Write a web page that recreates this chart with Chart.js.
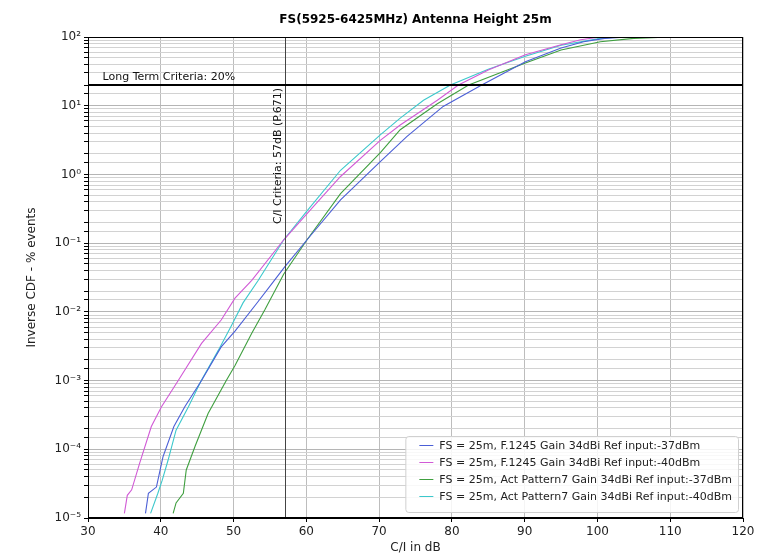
<!DOCTYPE html>
<html><head><meta charset="utf-8">
<script src="https://cdn.jsdelivr.net/npm/chart.js@4/dist/chart.umd.min.js"></script>
<style>html,body{margin:0;padding:0;background:#fff}</style>
</head><body>
<canvas id="c" width="771" height="560"></canvas>
<script>
// ---- data ----
const seriesLabels = [
  'FS = 25m, F.1245 Gain 34dBi Ref input:-37dBm',
  'FS = 25m, F.1245 Gain 34dBi Ref input:-40dBm',
  'FS = 25m, Act Pattern7 Gain 34dBi Ref input:-37dBm',
  'FS = 25m, Act Pattern7 Gain 34dBi Ref input:-40dBm'
];
// F.1245 -37dBm (blue)
const ciBlue  = [37.9, 38.3, 39.4, 40.3, 41.8, 43.3, 45.6, 48.3, 50.2, 53.3, 55.4, 57.0, 60.1, 64.7, 70.2, 73.8, 78.8, 84.1, 90.1, 95.0, 98.1, 101.0, 104.0];
const cdfBlue = [1.17e-5, 2.29e-5, 2.82e-5, 7.76e-5, 2.14e-4, 4.17e-4, 1.0e-3, 3.09e-3, 5.25e-3, 1.38e-2, 2.69e-2, 4.47e-2, 0.112, 0.427, 1.55, 3.55, 9.77, 20.0, 43.7, 69.2, 85.1, 95.5, 100];
// F.1245 -40dBm (magenta)
const ciMagenta  = [35.0, 35.4, 36.0, 37.1, 38.7, 40.1, 42.4, 45.6, 48.3, 50.2, 52.5, 56.9, 60.1, 64.7, 70.2, 72.9, 78.0, 80.9, 85.0, 90.1, 95.0, 97.7, 100.4];
const cdfMagenta = [1.17e-5, 2.14e-5, 2.57e-5, 6.3e-5, 2.14e-4, 4.17e-4, 1.0e-3, 3.47e-3, 7.6e-3, 1.58e-2, 2.88e-2, 0.112, 0.269, 0.933, 3.16, 5.25, 12.0, 20.0, 33.1, 55.0, 77.0, 91.2, 100];
// Act Pattern7 -37dBm (green)
const ciGreen  = [41.7, 42.1, 43.1, 43.5, 44.7, 46.5, 49.0, 50.2, 52.5, 54.3, 56.9, 60.1, 64.7, 70.2, 72.9, 78.0, 82.3, 90.1, 95.0, 100.4, 105.0, 110.0];
const cdfGreen = [1.17e-5, 1.66e-5, 2.29e-5, 5.0e-5, 1.1e-4, 3.31e-4, 1.0e-3, 1.66e-3, 4.9e-3, 1.07e-2, 3.55e-2, 0.112, 0.525, 2.09, 4.47, 10.7, 20.0, 41.7, 64.6, 85.1, 95.5, 100];
// Act Pattern7 -40dBm (cyan)
const ciCyan  = [38.6, 39.6, 40.2, 41.0, 42.1, 43.8, 45.6, 47.9, 49.7, 51.3, 53.4, 56.9, 60.1, 64.7, 70.2, 72.9, 76.1, 79.8, 85.0, 90.1, 95.0, 100.4, 103.0];
const cdfCyan = [1.17e-5, 2.29e-5, 3.55e-5, 6.92e-5, 1.9e-4, 4.17e-4, 1.02e-3, 2.75e-3, 6.3e-3, 1.35e-2, 2.88e-2, 0.112, 0.295, 1.15, 3.8, 6.6, 12.0, 20.0, 33.9, 52.5, 75.9, 95.5, 100];

const xRange = [30, 120];
const xStep = 10;
const yRange = [1e-5, 100];
const criteriaCI = 57;
const criteriaPct = 20;
const textLongTerm = 'Long Term Criteria: 20%';
const textCI = 'C/I Criteria: 57dB (P.671)';
const titleText = 'FS(5925-6425MHz) Antenna Height 25m';

// ---- styles ----
const seriesColors = ['#4b5fd6', '#d15ad6', '#3f9f3f', '#3cc8cc'];
const FONT = 'DejaVu Sans';

const allX = [ciBlue, ciMagenta, ciGreen, ciCyan];
const allY = [cdfBlue, cdfMagenta, cdfGreen, cdfCyan];
const datasets = seriesLabels.map((lab, k) => ({
  label: lab,
  data: allX[k].map((x, i) => ({x: x, y: allY[k][i]})),
  borderColor: seriesColors[k],
  backgroundColor: seriesColors[k],
  borderWidth: 1.1,
  pointRadius: 0,
  tension: 0,
  fill: false
}));

const sup = {'-':'\u207B','0':'\u2070','1':'\u00B9','2':'\u00B2','3':'\u00B3','4':'\u2074','5':'\u2075','6':'\u2076','7':'\u2077','8':'\u2078','9':'\u2079'};
function isMajor(v){ const l = Math.log10(v); return Math.abs(l - Math.round(l)) < 1e-6; }
function powLabel(v){ const e = String(Math.round(Math.log10(v))); return '10' + e.split('').map(c => sup[c]).join(''); }

const overlay = {
  id: 'overlay',
  afterDatasetsDraw(chart) {
    const {ctx, chartArea: a, scales: {x, y}} = chart;
    ctx.save();
    // criteria vertical line
    const cx = Math.round(x.getPixelForValue(criteriaCI)) + 0.5;
    ctx.strokeStyle = '#444'; ctx.lineWidth = 1;
    ctx.beginPath(); ctx.moveTo(cx, a.top); ctx.lineTo(cx, a.bottom); ctx.stroke();
    // long-term horizontal line
    const hy = y.getPixelForValue(criteriaPct);
    ctx.strokeStyle = '#000'; ctx.lineWidth = 2;
    ctx.beginPath(); ctx.moveTo(a.left, hy); ctx.lineTo(a.right, hy); ctx.stroke();
    // frame
    ctx.lineWidth = 1; ctx.strokeStyle = '#000';
    ctx.strokeRect(a.left + 0.5, a.top + 0.5, a.right - a.left - 1, a.bottom - a.top - 1);
    // annotations
    ctx.fillStyle = '#111';
    ctx.font = '11px "' + FONT + '"';
    ctx.textAlign = 'left'; ctx.textBaseline = 'alphabetic';
    ctx.fillText(textLongTerm, x.getPixelForValue(32), hy - 5);
    ctx.save();
    ctx.translate(cx - 5, hy + 3);
    ctx.rotate(-Math.PI / 2);
    ctx.textAlign = 'right'; ctx.textBaseline = 'alphabetic';
    ctx.fillText(textCI, 0, 0);
    ctx.restore();
    // legend
    ctx.font = '11px "' + FONT + '"';
    let maxW = 0;
    seriesLabels.forEach(l => { maxW = Math.max(maxW, ctx.measureText(l).width); });
    const boxW = 34 + maxW + 6, rowH = 17, boxH = 8 + rowH * 4;
    const bx = a.right - 5 - boxW, by = a.bottom - 6 - boxH;
    ctx.fillStyle = 'rgba(255,255,255,0.85)';
    ctx.strokeStyle = '#d0d0d0';
    ctx.beginPath();
    if (ctx.roundRect) ctx.roundRect(bx + 0.5, by + 0.5, boxW, boxH, 3); else ctx.rect(bx + 0.5, by + 0.5, boxW, boxH);
    ctx.fill(); ctx.stroke();
    seriesLabels.forEach((l, i) => {
      const ry = by + 9 + rowH * i;
      ctx.strokeStyle = seriesColors[i]; ctx.lineWidth = 1;
      ctx.beginPath(); ctx.moveTo(bx + 14, ry + 0.5); ctx.lineTo(bx + 28, ry + 0.5); ctx.stroke();
      ctx.fillStyle = '#222'; ctx.textBaseline = 'middle'; ctx.textAlign = 'left';
      ctx.fillText(l, bx + 34, ry + 1);
    });
    ctx.restore();
  }
};

new Chart(document.getElementById('c'), {
  type: 'line',
  data: {datasets},
  options: {
    responsive: false,
    animation: false,
    devicePixelRatio: 1,
    layout: {padding: {left: 0, right: 28, top: 0, bottom: 0}},
    plugins: {
      legend: {display: false},
      tooltip: {enabled: false},
      title: {display: true, fullSize: false, text: titleText, color: '#000',
        font: {family: FONT, size: 12, weight: 'bold'}, padding: {top: 13, bottom: 9.6}}
    },
    scales: {
      x: {
        type: 'linear', min: xRange[0], max: xRange[1],
        afterFit(s) { s.height = 42; },
        ticks: {stepSize: xStep, color: '#222', font: {family: FONT, size: 12}, padding: 3},
        grid: {color: '#bdbdbd', tickColor: '#000', tickLength: 4, lineWidth: 1},
        border: {display: true, color: '#000'},
        title: {display: true, text: 'C/I in dB', color: '#222', font: {family: FONT, size: 12}, padding: {top: 0, bottom: 4.8}}
      },
      y: {
        type: 'logarithmic', min: yRange[0], max: yRange[1],
        afterFit(s) { s.width = 88; },
        ticks: {autoSkip: false, color: '#222', font: {family: FONT, size: 12}, padding: 3,
          callback: (v) => isMajor(v) ? powLabel(v) : ''},
        grid: {color: (c) => (c.tick && isMajor(c.tick.value)) ? '#b5b5b5' : '#d2d2d2',
          tickColor: '#000', tickLength: 4, lineWidth: 1},
        border: {display: true, color: '#000'},
        title: {display: true, text: 'Inverse CDF - % events', color: '#222', font: {family: FONT, size: 12}, padding: {top: 25, bottom: 0}}
      }
    }
  },
  plugins: [overlay]
});
</script>
</body></html>
